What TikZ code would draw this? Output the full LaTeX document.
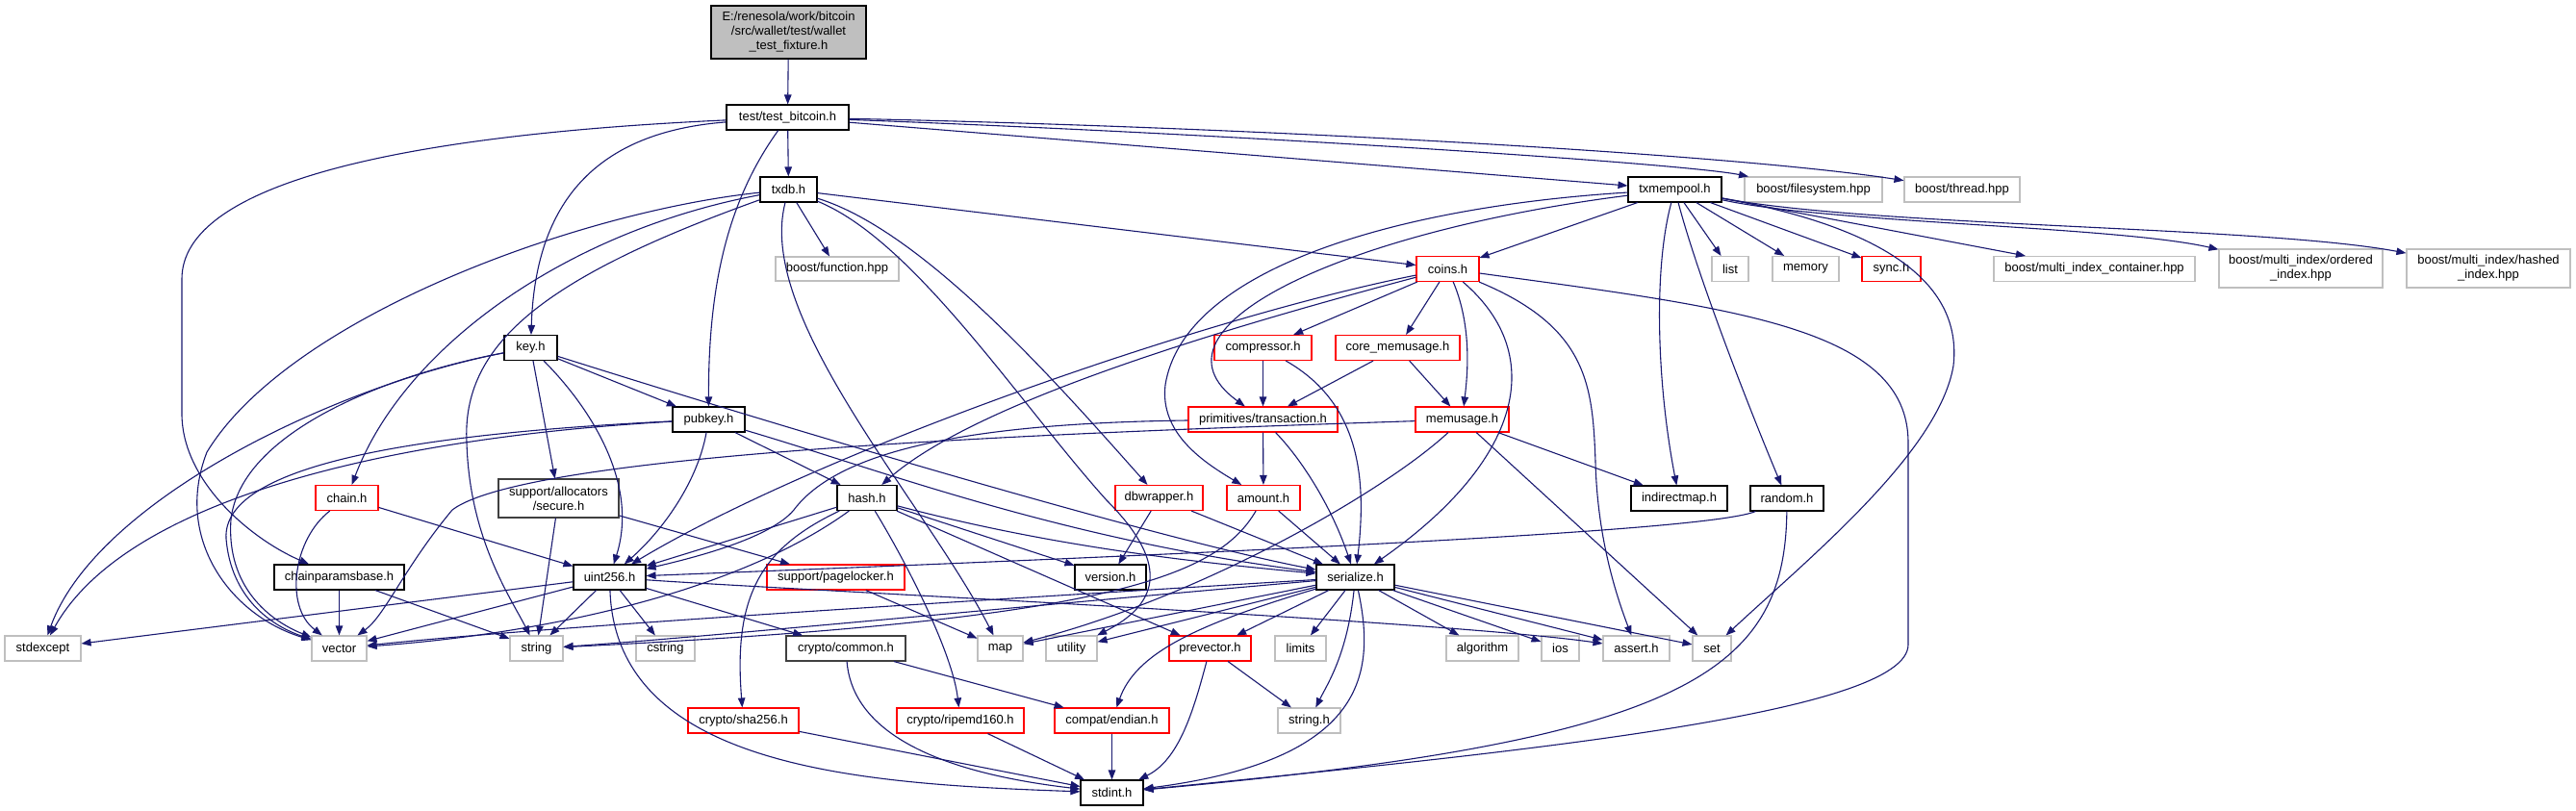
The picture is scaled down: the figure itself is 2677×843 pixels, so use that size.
\documentclass[tikz,border=0pt]{standalone}
\usepackage{fontspec}
\setmainfont{Liberation Sans}
\usetikzlibrary{arrows.meta}
\definecolor{edgec}{HTML}{191970}
\definecolor{grayb}{HTML}{BFBFBF}
\definecolor{darkb}{HTML}{404040}
\definecolor{redb}{HTML}{FF0000}
\definecolor{rootfill}{HTML}{BFBFBF}
\tikzset{
  nd/.style={line width=1.1pt, fill=white, inner sep=0pt, align=center,
    font=\fontsize{13}{15}\selectfont, text=black},
  sz/.style 2 args={minimum width=#1pt, minimum height=#2pt},
  fb/.style={nd, draw=black},
  fd/.style={nd, draw=darkb},
  fr/.style={nd, draw=redb},
  fg/.style={nd, draw=grayb},
  froot/.style={nd, draw=black, fill=rootfill},
  e/.style={draw=edgec, line width=1.1pt, -{Triangle[length=10pt,width=7.5pt]}}
}
\begin{document}
\begin{tikzpicture}[x=1pt,y=-1pt]
\useasboundingbox[fill=white] (0,0) rectangle (2677,843);
% nodes
\node[froot,sz={161}{55}] (root) at (819.5,33.5) {E:/renesola/work/bitcoin\\/src/wallet/test/wallet\\\_test\_fixture.h};
\node[fb,sz={127}{26}] (tb) at (818.5,122) {test/test\_bitcoin.h};
\node[fb,sz={59}{26}] (txdb) at (819.5,197) {txdb.h};
\node[fg,sz={128}{25}] (bfunc) at (870,279.5) {boost/function.hpp};
\node[fb,sz={97}{26}] (txmem) at (1740.5,197) {txmempool.h};
\node[fg,sz={143}{26}] (bfs) at (1884.5,197) {boost/filesystem.hpp};
\node[fg,sz={120}{26}] (bthr) at (2039,197) {boost/thread.hpp};
\node[fb,sz={55}{26}] (key) at (551.5,361.5) {key.h};
\node[fr,sz={65}{26}] (coins) at (1504.5,279.5) {coins.h};
\node[fg,sz={38}{26}] (list) at (1798,279.5) {list};
\node[fg,sz={69}{26}] (memory) at (1876.5,279.5) {memory};
\node[fr,sz={61}{26}] (sync) at (1965.5,279.5) {sync.h};
\node[fg,sz={209}{26}] (bmic) at (2176.5,279.5) {boost/multi\_index\_container.hpp};
\node[fg,sz={170}{40}] (bord) at (2391,279) {boost/multi\_index/ordered\\\_index.hpp};
\node[fg,sz={170}{40}] (bhash) at (2586,279) {boost/multi\_index/hashed\\\_index.hpp};
\node[fr,sz={101}{26}] (compr) at (1312.5,361.5) {compressor.h};
\node[fr,sz={129}{26}] (corem) at (1452.5,361.5) {core\_memusage.h};
\node[fb,sz={75}{26}] (pubkey) at (736.5,436) {pubkey.h};
\node[fr,sz={155}{26}] (prim) at (1312.5,436) {primitives/transaction.h};
\node[fr,sz={97}{26}] (memu) at (1519.5,436) {memusage.h};
\node[fr,sz={65}{26}] (chain) at (360.5,517.5) {chain.h};
\node[fd,sz={125}{40}] (secure) at (580.5,518) {support/allocators\\/secure.h};
\node[fb,sz={62}{26}] (hash) at (901,517.5) {hash.h};
\node[fr,sz={91}{26}] (dbw) at (1204.5,517.5) {dbwrapper.h};
\node[fr,sz={76}{26}] (amount) at (1313,517.5) {amount.h};
\node[fb,sz={100}{26}] (indm) at (1745,518) {indirectmap.h};
\node[fb,sz={76}{26}] (random) at (1857,518) {random.h};
\node[fb,sz={135}{26}] (cpb) at (352.5,600) {chainparamsbase.h};
\node[fb,sz={75}{26}] (u256) at (633.5,600) {uint256.h};
\node[fr,sz={143}{26}] (pagel) at (868.5,600) {support/pagelocker.h};
\node[fb,sz={74}{26}] (version) at (1154,600) {version.h};
\node[fb,sz={81}{26}] (ser) at (1408.5,600) {serialize.h};
\node[fg,sz={79}{26}] (stdexc) at (44.5,674) {stdexcept};
\node[fg,sz={57}{26}] (vector) at (352.5,674) {vector};
\node[fg,sz={55}{26}] (string) at (557.5,674) {string};
\node[fg,sz={61}{26}] (cstring) at (691.5,674) {cstring};
\node[fd,sz={124}{26}] (common) at (879,674) {crypto/common.h};
\node[fg,sz={47}{26}] (map) at (1039.5,674) {map};
\node[fg,sz={53}{26}] (utility) at (1113.5,674) {utility};
\node[fr,sz={85}{26}] (prev) at (1257.5,674) {prevector.h};
\node[fg,sz={53}{26}] (limits) at (1351.5,674) {limits};
\node[fg,sz={75}{26}] (algo) at (1540.5,674) {algorithm};
\node[fg,sz={39}{26}] (ios) at (1621.5,674) {ios};
\node[fg,sz={69}{26}] (assert) at (1700.5,674) {assert.h};
\node[fg,sz={40}{26}] (set) at (1779,674) {set};
\node[fr,sz={115}{26}] (sha) at (772.5,749) {crypto/sha256.h};
\node[fr,sz={132}{26}] (ripemd) at (998,749) {crypto/ripemd160.h};
\node[fr,sz={119}{26}] (endian) at (1155.5,749) {compat/endian.h};
\node[fg,sz={65}{26}] (stringh) at (1360.5,749) {string.h};
\node[fb,sz={65}{26}] (stdint) at (1155.5,824) {stdint.h};
% edges: root and test_bitcoin
\draw[e] (root) -- (tb);
\draw[e] (tb) -- (txdb);
\draw[e] (tb) .. controls (610,138) and (556,220) .. (key);
\draw[e] (tb) .. controls (755,210) and (736,300) .. (pubkey);
\draw[e] (tb) .. controls (420,140) and (189,190) .. (189,290) -- (189,430) .. controls (189,500) and (260,560) .. (cpb);
\draw[e] (tb) -- (txmem);
\draw[e] (tb) .. controls (1300,140) and (1750,170) .. (bfs);
\draw[e] (tb) .. controls (1300,132) and (1800,160) .. (bthr);
% txdb
\draw[e] (txdb) .. controls (600,220) and (300,330) .. (215,470) .. controls (180,560) and (240,640) .. (vector);
\draw[e] (txdb) .. controls (590,240) and (420,360) .. (chain);
\draw[e] (txdb) .. controls (560,290) and (480,360) .. (485,460) .. controls (488,560) and (530,620) .. (string);
\draw[e] (txdb) -- (bfunc);
\draw[e] (txdb) .. controls (785,330) and (960,520) .. (map);
\draw[e] (txdb) .. controls (950,250) and (1060,420) .. (1150,520) .. controls (1220,590) and (1200,630) .. (utility);
\draw[e] (txdb) .. controls (960,240) and (1100,400) .. (dbw);
\draw[e] (txdb) -- (coins);
% txmempool
\draw[e] (txmem) -- (coins);
\draw[e] (txmem) .. controls (1450,215) and (1230,280) .. (1211,400) .. controls (1205,450) and (1250,480) .. (amount);
\draw[e] (txmem) .. controls (1400,240) and (1180,340) .. (prim);
\draw[e] (txmem) .. controls (1718,280) and (1722,400) .. (indm);
\draw[e] (txmem) .. controls (1765,290) and (1820,430) .. (random);
\draw[e] (txmem) -- (list);
\draw[e] (txmem) -- (memory);
\draw[e] (txmem) -- (sync);
\draw[e] (txmem) .. controls (1950,235) and (2040,290) .. (2030,380) .. controls (2015,470) and (1880,580) .. (set);
\draw[e] (txmem) -- (bmic);
\draw[e] (txmem) .. controls (1900,232) and (2200,235) .. (bord);
\draw[e] (txmem) .. controls (1950,236) and (2350,235) .. (bhash);
% key
\draw[e] (key) -- (pubkey);
\draw[e] (key) .. controls (800,440) and (1200,560) .. (ser);
\draw[e] (key) .. controls (610,420) and (665,500) .. (u256);
\draw[e] (key) -- (secure);
\draw[e] (key) .. controls (350,400) and (100,520) .. (stdexc);
\draw[e] (key) .. controls (400,390) and (250,450) .. (240,540) .. controls (235,610) and (280,645) .. (vector);
% pubkey
\draw[e] (pubkey) -- (hash);
\draw[e] (pubkey) .. controls (920,490) and (1100,560) .. (ser);
\draw[e] (pubkey) .. controls (725,500) and (690,550) .. (u256);
\draw[e] (pubkey) .. controls (400,455) and (130,520) .. (stdexc);
\draw[e] (pubkey) .. controls (450,450) and (230,480) .. (235,560) .. controls (240,620) and (280,650) .. (vector);
% chain, chainparamsbase, secure
\draw[e] (chain) -- (u256);
\draw[e] (chain) .. controls (305,560) and (295,630) .. (vector);
\draw[e] (cpb) -- (vector);
\draw[e] (cpb) -- (string);
\draw[e] (secure) -- (pagel);
\draw[e] (secure) -- (string);
% uint256
\draw[e] (u256) -- (stdexc);
\draw[e] (u256) -- (vector);
\draw[e] (u256) -- (string);
\draw[e] (u256) -- (cstring);
\draw[e] (u256) -- (common);
\draw[e] (u256) .. controls (800,612) and (1500,645) .. (assert);
\draw[e] (u256) .. controls (640,800) and (900,815) .. (stdint);
% hash
\draw[e] (hash) -- (u256);
\draw[e] (hash) .. controls (760,620) and (550,660) .. (vector);
\draw[e] (hash) .. controls (790,570) and (762,620) .. (sha);
\draw[e] (hash) .. controls (945,590) and (990,680) .. (ripemd);
\draw[e] (hash) -- (prev);
\draw[e] (hash) -- (version);
\draw[e] (hash) .. controls (1100,570) and (1250,585) .. (ser);
% dbwrapper, amount, primitives
\draw[e] (dbw) -- (version);
\draw[e] (dbw) -- (ser);
\draw[e] (amount) -- (ser);
\draw[e] (amount) .. controls (1265,600) and (1150,645) .. (string);
\draw[e] (prim) -- (amount);
\draw[e] (prim) .. controls (1355,480) and (1385,530) .. (ser);
\draw[e] (prim) .. controls (1000,440) and (870,470) .. (825,530) .. controls (800,560) and (720,580) .. (u256);
% memusage
\draw[e] (memu) -- (indm);
\draw[e] (memu) -- (set);
\draw[e] (memu) .. controls (1440,510) and (1250,620) .. (map);
\draw[e] (memu) .. controls (1100,450) and (550,470) .. (470,530) .. controls (420,590) and (400,640) .. (vector);
% coins
\draw[e] (coins) -- (compr);
\draw[e] (coins) -- (corem);
\draw[e] (coins) .. controls (1530,340) and (1525,390) .. (memu);
\draw[e] (coins) .. controls (1610,370) and (1580,480) .. (ser);
\draw[e] (coins) .. controls (1650,340) and (1655,400) .. (1658,480) .. controls (1660,560) and (1680,620) .. (assert);
\draw[e] (coins) .. controls (1200,360) and (1000,430) .. (hash);
\draw[e] (coins) .. controls (1250,330) and (850,470) .. (u256);
\draw[e] (coins) .. controls (1800,320) and (1983,340) .. (1983,460) -- (1983,670) .. controls (1983,740) and (1600,780) .. (stdint);
% compressor, core_memusage
\draw[e] (compr) -- (prim);
\draw[e] (compr) .. controls (1415,420) and (1420,500) .. (ser);
\draw[e] (corem) -- (prim);
\draw[e] (corem) -- (memu);
% serialize
\draw[e] (ser) -- (map);
\draw[e] (ser) -- (utility);
\draw[e] (ser) .. controls (1000,625) and (560,652) .. (vector);
\draw[e] (ser) .. controls (1000,636) and (700,665) .. (string);
\draw[e] (ser) .. controls (1240,650) and (1180,680) .. (endian);
\draw[e] (ser) -- (prev);
\draw[e] (ser) -- (limits);
\draw[e] (ser) .. controls (1400,680) and (1380,710) .. (stringh);
\draw[e] (ser) .. controls (1430,700) and (1420,790) .. (stdint);
\draw[e] (ser) -- (algo);
\draw[e] (ser) -- (ios);
\draw[e] (ser) -- (assert);
\draw[e] (ser) -- (set);
% lower level
\draw[e] (prev) -- (stringh);
\draw[e] (prev) .. controls (1240,740) and (1225,790) .. (stdint);
\draw[e] (endian) -- (stdint);
\draw[e] (ripemd) -- (stdint);
\draw[e] (sha) -- (stdint);
\draw[e] (common) -- (endian);
\draw[e] (common) .. controls (885,750) and (950,800) .. (stdint);
\draw[e] (pagel) -- (map);
\draw[e] (random) .. controls (1780,550) and (1400,570) .. (u256);
\draw[e] (random) .. controls (1855,700) and (1750,770) .. (stdint);
\end{tikzpicture}
\end{document}
